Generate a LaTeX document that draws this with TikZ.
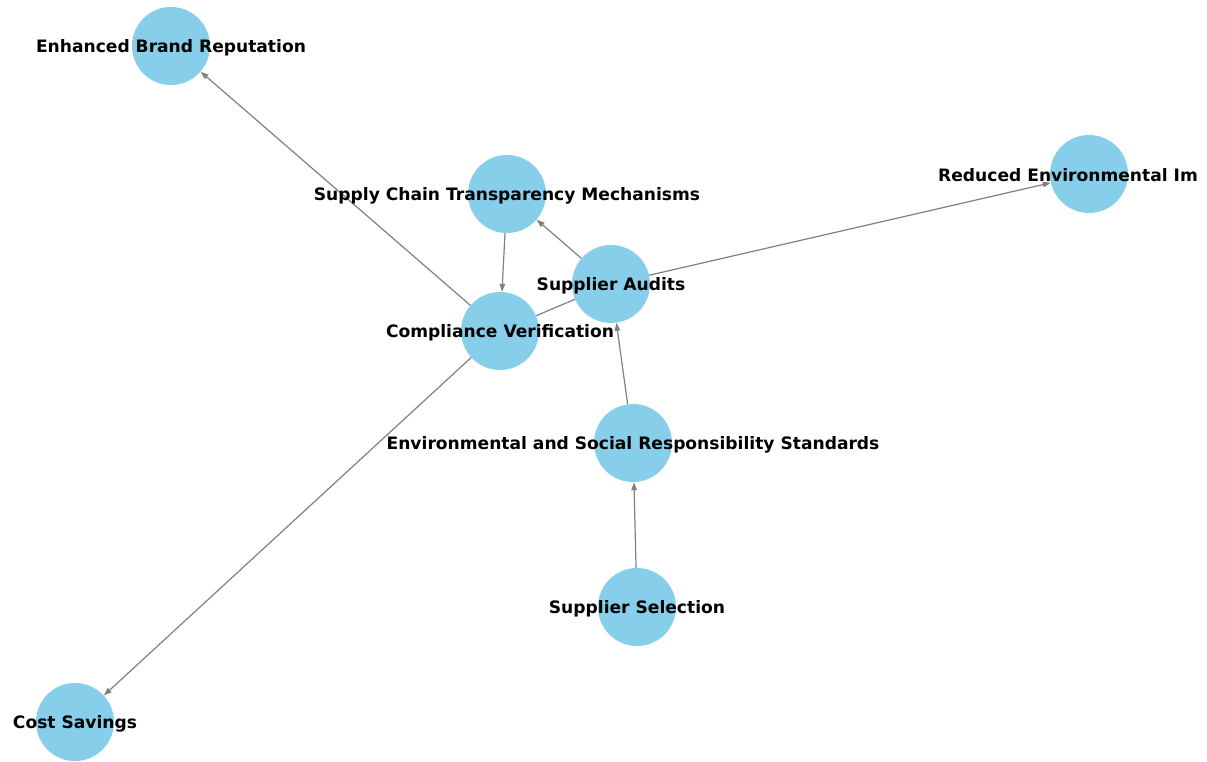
\documentclass[tikz,border=0pt]{standalone}
\usepackage{fontspec}
\setmainfont{DejaVu Sans}
\usetikzlibrary{arrows.meta}
\definecolor{nodeblue}{HTML}{87CEEB}
\definecolor{edgegray}{HTML}{808080}
\tikzset{
  ball/.style={circle, fill=nodeblue, draw=none, minimum size=78pt, inner sep=0pt},
  lbl/.style={font=\fontsize{17.1}{18}\selectfont\bfseries, text=black, inner sep=0pt, yshift=-1.5pt},
  link/.style={draw=edgegray, line width=1.2pt, -{Triangle[length=8pt,width=5.5pt]}},
  plainlink/.style={draw=edgegray, line width=1.2pt}
}
\begin{document}
\begin{tikzpicture}[x=1pt,y=-1pt]
\useasboundingbox (0,0) rectangle (1207,761);
\clip (0,0) rectangle (1207,761);
% circles
\node[ball] (ebr) at (171,46) {};
\node[ball] (sctm) at (507,194) {};
\node[ball] (rei) at (1089,174) {};
\node[ball] (sa) at (611,284) {};
\node[ball] (cv) at (500,331) {};
\node[ball] (esrs) at (633,443) {};
\node[ball] (ss) at (637,607) {};
\node[ball] (cs) at (75,722) {};
% edges
\draw[link] (ss) -- (esrs);
\draw[link] (esrs) -- (sa);
\draw[link] (sa) -- (sctm);
\draw[link] (sa) -- (rei);
\draw[link] (sctm) -- (cv);
\draw[link] (cv) -- (ebr);
\draw[link] (cv) -- (cs);
\draw[plainlink] (cv) -- (sa);
% labels
\node[lbl] (tebr) at (171,46) {Enhanced Brand Reputation};
\node[lbl] (tsctm) at (507,194) {Supply Chain Transparency Mechanisms};
\node[lbl, anchor=west] (trei) at (938,174) {Reduced Environmental Im};
\node[lbl] (tsa) at (611,284) {Supplier Audits};
\node[lbl] (tcv) at (500,331) {Compliance Verification};
\node[lbl] (tesrs) at (633,443) {Environmental and Social Responsibility Standards};
\node[lbl] (tss) at (637,607) {Supplier Selection};
\node[lbl] (tcs) at (75,722) {Cost Savings};
\end{tikzpicture}
\end{document}
